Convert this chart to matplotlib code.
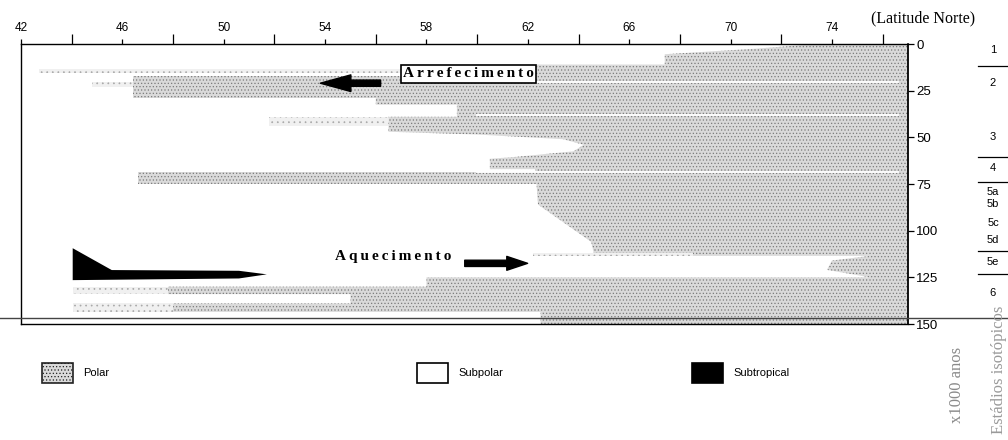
import matplotlib
matplotlib.use("Agg")
import matplotlib.pyplot as plt
from matplotlib.patches import Rectangle, Polygon, FancyArrowPatch
from matplotlib.transforms import blended_transform_factory

# limite sul das águas polares (ka, latitude)
limite_ka = [0, 2.5, 5.5, 11, 11, 21, 21, 29, 29, 32.5, 32.5, 39, 39, 47, 48.5, 51, 54, 57.5,
             60.5, 61.5, 67, 67, 86, 106, 112, 112, 113.5, 113.5, 116, 121, 125, 125, 130, 130,
             134, 134, 139, 139, 143.5, 143.5, 150]
limite_lat = [73.4, 71.0, 67.4, 67.4, 62.3, 62.3, 59.2, 59.2, 56.0, 56.0, 59.2, 59.2, 56.5, 56.5,
              60.0, 63.4, 64.2, 63.8, 61.5, 60.5, 60.5, 62.3, 62.4, 64.5, 64.6, 68.5, 68.5, 75.5,
              74.0, 73.8, 75.5, 58.0, 58.0, 47.8, 47.8, 55.0, 55.0, 48.0, 48.0, 62.5, 62.5]

# línguas polares densas
denso_topo = [17, 68.8]
denso_base = [29, 75]
denso_oeste = [46.4, 46.6]
denso_leste = [60.0, 62.5]

# línguas polares ténues
fraco_topo = [13.5, 20.5, 39, 112, 130, 139]
fraco_base = [15.5, 23, 44, 113.5, 134, 143.5]
fraco_oeste = [42.7, 44.8, 51.8, 62.2, 44.05, 44.05]
fraco_leste = [57.0, 46.4, 56.5, 68.5, 47.8, 48.0]

# faixas brancas (falhas de impressão)
falha_ka = [20.3, 38.0, 68.5]

# água subtropical
subtrop_lat = [44.04, 45.58, 50.6, 51.7, 50.6, 44.04]
subtrop_ka = [109.4, 121.1, 121.5, 123.4, 125.6, 126.5]

# estádios isotópicos
estadios = ["1", "2", "3", "4", "5a", "5b", "5c", "5d", "5e", "6"]
estadios_ka = [3.2, 20.9, 49.8, 66.4, 79.3, 85.7, 95.9, 105.0, 116.8, 133.4]
fronteiras_ka = [11.8, 60.5, 73.9, 110.9, 123.2]

legenda = ["Polar", "Subpolar", "Subtropical"]

W, H = 1008, 440
plt.rcParams['hatch.linewidth'] = 0.5
SERIF = 'Liberation Serif'
SANS = 'Liberation Sans'

fig = plt.figure(figsize=(W / 100, H / 100), dpi=100)
ax = fig.add_axes([21 / W, 1 - 324 / H, 887 / W, 280 / H])
ax.set_xlim(42, 77)
ax.set_ylim(150, 0)

dens = dict(facecolor='#dadada', edgecolor='#7c7c7c', hatch='.....', linewidth=0)
tenue = dict(facecolor='#f0f0f0', edgecolor='#a8a8a8', hatch='...', linewidth=0)

ax.fill_betweenx(limite_ka, limite_lat, 77, **dens)
for t, b, w, e in zip(fraco_topo, fraco_base, fraco_oeste, fraco_leste):
    ax.fill_betweenx([t, b], w, e, **tenue)
for t, b, w, e in zip(denso_topo, denso_base, denso_oeste, denso_leste):
    ax.fill_betweenx([t, b], w, e, **dens)
for k in falha_ka:
    ax.plot([60, 76.6], [k, k], color='white', lw=1.3)

ax.add_patch(Polygon(list(zip(subtrop_lat, subtrop_ka)), closed=True, color='black', lw=0))

def espaco(s):
    return '\u2009'.join(s)

ax.text(59.65, 16.0, espaco("Arrefecimento"), ha='center', va='center', fontfamily=SERIF,
        fontweight='bold', fontsize=11,
        bbox=dict(boxstyle='square,pad=0.15', fc='white', ec='black', lw=1.2))
ax.add_patch(FancyArrowPatch((56.3, 21), (53.7, 21), mutation_scale=10, color='black',
                             arrowstyle='simple,head_length=2.2,head_width=1.2,tail_width=0.45'))
ax.text(56.7, 113.8, espaco("Aquecimento"), ha='center', va='center', fontfamily=SERIF,
        fontweight='bold', fontsize=11)
ax.add_patch(FancyArrowPatch((59.4, 117.5), (62.1, 117.5), mutation_scale=10, color='black',
                             arrowstyle='simple,head_length=1.5,head_width=1.0,tail_width=0.45'))

ax.xaxis.tick_top()
ax.set_xticks(range(42, 75, 4))
ax.set_xticks(range(44, 77, 4), minor=True)
ax.tick_params(axis='x', which='major', direction='out', length=3.5, width=0.9, pad=4, labelsize=8.5)
ax.tick_params(axis='x', which='minor', direction='out', length=7, width=0.9)
ax.yaxis.tick_right()
ax.set_yticks(range(0, 151, 25))
ax.tick_params(axis='y', direction='out', length=4, width=0.9, pad=2, labelsize=9.5)
for lab in ax.get_xticklabels() + ax.get_yticklabels():
    lab.set_fontfamily(SANS)
ax.spines['right'].set_linestyle((0, (3, 1)))
ax.spines['right'].set_linewidth(1.3)
for s in ['left', 'top', 'bottom']:
    ax.spines[s].set_linewidth(1.0)

fig.text(923 / W, 1 - 18 / H, "(Latitude Norte)", ha='center', va='center', fontfamily=SERIF, fontsize=11.5)

tr = blended_transform_factory(fig.transFigure, ax.transData)
for lab, k in zip(estadios, estadios_ka):
    ax.text(993 / W, k, lab, transform=tr, ha='center', va='center', fontfamily=SANS, fontsize=8, clip_on=False)
for k in fronteiras_ka:
    ax.plot([978 / W, 1007 / W], [k, k], transform=tr, color='black', lw=0.9, clip_on=False)

fig.add_artist(plt.Line2D([0, 1], [1 - 318 / H] * 2, transform=fig.transFigure, color='#444444', lw=1))

fig.text(957 / W, 1 - 385 / H, "x1000 anos", rotation=90, ha='center', va='center',
         fontfamily=SERIF, fontsize=12, color='#8a8a8a')
fig.text(999 / W, 1 - 370 / H, "Estádios isotópicos", rotation=90, ha='center', va='center',
         fontfamily=SERIF, fontsize=12, color='#9a9a9a')

caixas_x = [42, 417, 692]
estilos = [dens, dict(facecolor='white'), dict(facecolor='black')]
for nome, x0, st in zip(legenda, caixas_x, estilos):
    st = dict(st)
    st['linewidth'] = 1.2
    st['edgecolor'] = 'black' if 'hatch' not in st else '#222222'
    fig.add_artist(Rectangle((x0 / W, 1 - 383 / H), 31 / W, 20 / H, transform=fig.transFigure, **st))
    fig.text((x0 + 41) / W, 1 - 373 / H, nome, ha='left', va='center', fontfamily=SANS, fontsize=8)

fig.savefig("out.png", dpi=100)
